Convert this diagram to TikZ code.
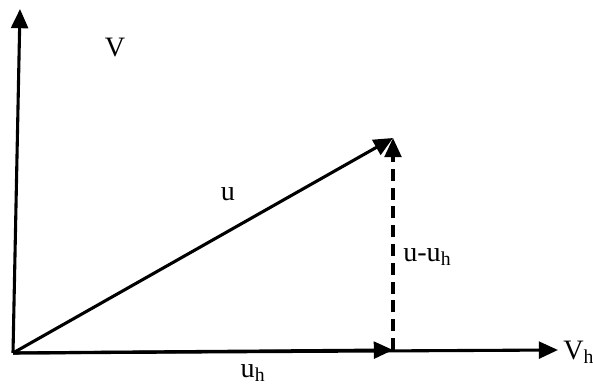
\documentclass[tikz,border=0pt]{standalone}
\usepackage{fontspec}
\setmainfont{Liberation Serif}
\usetikzlibrary{arrows.meta}
\usetikzlibrary{positioning}

\tikzset{
    vec/.style={line width=2.2pt, -{Triangle[length=0.48cm, width=0.42cm]}},
    lbl/.style={font=\fontsize{20}{24}\selectfont, inner sep=0pt},
}

\begin{document}
\begin{tikzpicture}[x=0.025cm, y=0.025cm]
    \useasboundingbox (0, 0) rectangle (593, 385);
    \coordinate (origin) at (13, 32);
    \coordinate (vtop) at (20, 376);
    \coordinate (vhend) at (558, 35);
    \coordinate (uend) at (393, 247);
    \coordinate (proj) at (393, 35);

    \node [lbl] (vlabel) at (115, 337) {V};
    \node [lbl] (ulabel) at (228, 191) {u};
    \node [lbl, anchor=west] (difflabel) at (403, 128) {u-u\textsubscript{h}};
    \node [lbl] (uhlabel) at (253, 12) {u\textsubscript{h}};
    \node [lbl, anchor=west] (vhlabel) at (563, 33) {V\textsubscript{h}};

    \draw [vec] (origin) -- (vtop);
    \draw [vec] (origin) -- (vhend);
    \draw [vec] (origin) -- (proj);
    \draw [vec] (origin) -- (uend);
    \draw [vec, dash pattern=on 0.3cm off 0.17cm] (proj) -- (uend);
\end{tikzpicture}
\end{document}
